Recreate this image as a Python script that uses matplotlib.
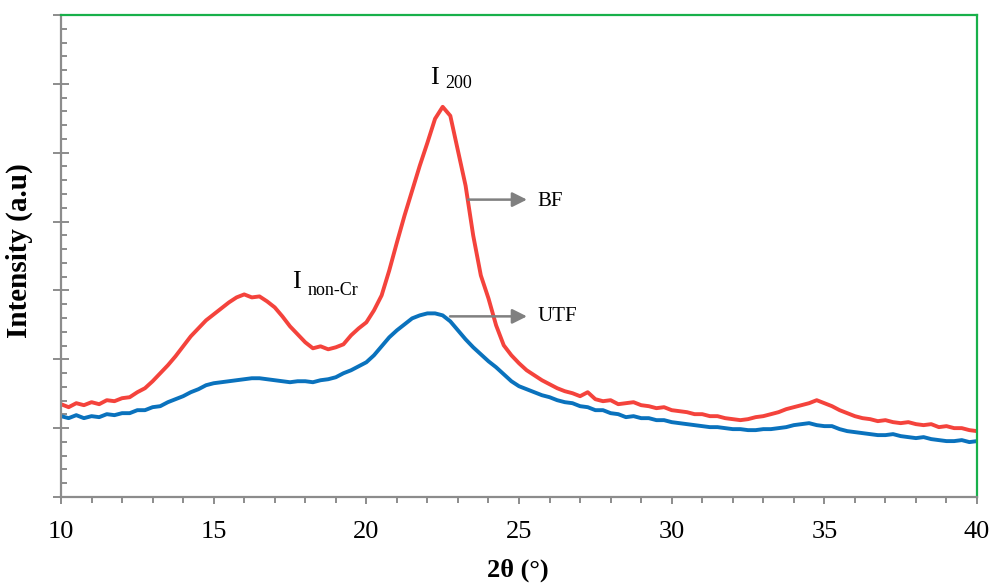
"""XRD patterns of BF and UTF fibres."""

import numpy as np
import matplotlib
matplotlib.use("Agg")
import matplotlib.pyplot as plt
from matplotlib.ticker import MultipleLocator

### Data (2theta in degrees, intensity in a.u.)
two_theta = np.arange(10.0, 40.001, 0.25)

bf = [93, 90, 94, 92, 95, 93, 97, 96, 99, 100, 105, 109, 116, 124, 132, 141,
      151, 161, 169, 177, 183, 189, 195, 200, 203, 200, 201, 196, 190, 181, 171, 163,
      155, 149, 151, 148, 150, 153, 162, 169, 175, 187, 202, 227, 255, 282, 307, 332,
      355, 379, 391, 382, 347, 312, 262, 222, 199, 172, 152, 142, 134, 127, 122, 117,
      113, 109, 106, 104, 101, 105, 98, 96, 97, 93, 94, 95, 92, 91, 89, 90,
      87, 86, 85, 83, 83, 81, 81, 79, 78, 77, 78, 80, 81, 83, 85, 88,
      90, 92, 94, 97, 94, 91, 87, 84, 81, 79, 78, 76, 77, 75, 74, 75,
      73, 72, 73, 70, 71, 69, 69, 67, 66]

utf = [81, 79, 82, 79, 81, 80, 83, 82, 84, 84, 87, 87, 90, 91, 95, 98,
       101, 105, 108, 112, 114, 115, 116, 117, 118, 119, 119, 118, 117, 116, 115, 116,
       116, 115, 117, 118, 120, 124, 127, 131, 135, 142, 151, 160, 167, 173, 179, 182,
       184, 184, 182, 176, 167, 158, 150, 143, 136, 130, 123, 116, 111, 108, 105, 102,
       100, 97, 95, 94, 91, 90, 87, 87, 84, 83, 80, 81, 79, 79, 77, 77,
       75, 74, 73, 72, 71, 70, 70, 69, 68, 68, 67, 67, 68, 68, 69, 70,
       72, 73, 74, 72, 71, 71, 68, 66, 65, 64, 63, 62, 62, 63, 61, 60,
       59, 60, 58, 57, 56, 56, 57, 55, 56]

red = "#f4433c"
blue = "#0a72bd"
spine_gray = "#8c8c8c"
spine_green = "#18b04a"
fs = 19

plt.rcParams["font.family"] = ["Liberation Serif", "DejaVu Serif"]

fig = plt.figure(figsize=(9.92, 5.84), dpi=100)
ax = fig.add_axes([0.0615, 0.149, 0.9234, 0.8253])

ax.plot(two_theta, bf, color=red, lw=2.8, solid_joinstyle="round")
ax.plot(two_theta, utf, color=blue, lw=2.8, solid_joinstyle="round")

ax.set_xlim(10, 40)
ax.set_ylim(0, 483)
ax.xaxis.set_major_locator(MultipleLocator(5))
ax.xaxis.set_minor_locator(MultipleLocator(1))
ax.yaxis.set_major_locator(MultipleLocator(69))
ax.yaxis.set_minor_locator(MultipleLocator(13.8))
ax.set_yticklabels([])

### Spines and ticks
for s in ["left", "bottom"]:
    ax.spines[s].set_color(spine_gray)
    ax.spines[s].set_linewidth(1.6)
for s in ["top", "right"]:
    ax.spines[s].set_color(spine_green)
    ax.spines[s].set_linewidth(1.6)
ax.tick_params(axis="x", which="major", direction="out", length=5, width=1.4,
               color=spine_gray, labelsize=fs, pad=12)
ax.tick_params(axis="x", which="minor", direction="out", length=4, width=1.4,
               color=spine_gray)
ax.tick_params(axis="y", which="major", direction="inout", length=12, width=1.4,
               color=spine_gray)
ax.tick_params(axis="y", which="minor", direction="in", length=4, width=1.4,
               color=spine_gray)

ax.set_xlabel("2θ (°)", fontsize=19, fontweight="bold")
ax.set_ylabel("Intensity (a.u)", fontsize=21, fontweight="bold")
ax.xaxis.set_label_coords(0.499, -0.127)
ax.yaxis.set_label_coords(-0.031, 0.512)

### Peak labels
ax.text(22.09, 414, "I", fontsize=fs, ha="left", va="baseline")
ax.text(22.58, 410, "200", fontsize=13, ha="left", va="baseline")
ax.text(17.57, 209, "I", fontsize=fs, ha="left", va="baseline")
ax.text(18.06, 202, "non-Cr", fontsize=13, ha="left", va="baseline")

### Series arrows
arrow = dict(arrowstyle="-|>", color="gray", lw=1.8, mutation_scale=22,
             shrinkA=0, shrinkB=0)
ax.annotate("", xy=(25.26, 298), xytext=(23.33, 298), arrowprops=arrow)
ax.annotate("", xy=(25.26, 181), xytext=(22.74, 181), arrowprops=arrow)
ax.text(25.59, 296, "BF", fontsize=15, ha="left", va="center")
ax.text(25.59, 181, "UTF", fontsize=15, ha="left", va="center")

plt.savefig("out.png", dpi=100)
